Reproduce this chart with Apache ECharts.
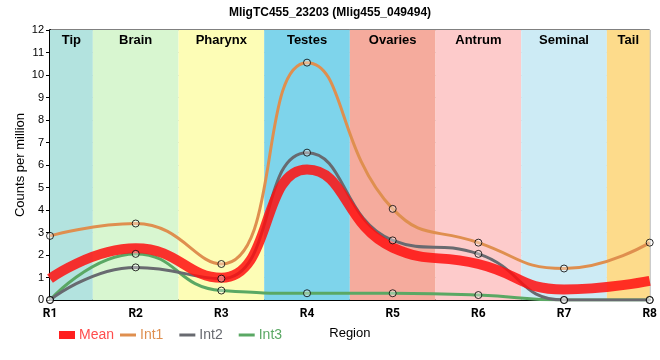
<!DOCTYPE html>
<html><head><meta charset="utf-8">
<script src="https://cdn.jsdelivr.net/npm/echarts@6/dist/echarts.min.js"></script>
<style>html,body{margin:0;padding:0;background:#fff}#c{width:660px;height:360px}</style>
</head><body><div id="c"></div>
<script>
const categories = ['R1','R2','R3','R4','R5','R6','R7','R8'];
const mean = [0.95, 2.3, 0.99, 5.8, 2.33, 1.6, 0.47, 0.85];
const int1 = [2.85, 3.4, 1.6, 10.55, 4.05, 2.55, 1.4, 2.55];
const int2 = [0, 1.45, 0.95, 6.55, 2.65, 2.05, 0, 0];
const int3 = [0, 2.05, 0.42, 0.3, 0.3, 0.22, 0, 0];
const bandNames = ['Tip','Brain','Pharynx','Testes','Ovaries','Antrum','Seminal','Tail'];
const bandStart = [0, 0.5, 1.5, 2.5, 3.5, 4.5, 5.5, 6.5];
const bandEnd = [0.5, 1.5, 2.5, 3.5, 4.5, 5.5, 6.5, 7];
const bandColors = ['#b3e3df','#d8f6d0','#fdfdb6','#7ed4eb','#f5ab9d','#fdcbcb','#cdebf5','#fddb8b'];
const yTicks = [0,1,2,3,4,5,6,7,8,9,10,11,12];

const FONT = 'Liberation Sans';
const pts = a => a.map((v,i)=>[i,v]);
const colors = {Mean:'#ff2020', Int1:'#df8f4f', Int2:'#686a70', Int3:'#5aa864'};

const chart = echarts.init(document.getElementById('c'), null, {renderer:'canvas'});
const markerSeries = (name, arr) => ({
  type:'scatter', data: pts(arr), symbol:'circle', symbolSize:7, z:10,
  itemStyle:{color:'rgba(255,255,255,0.45)', borderColor:'#000', borderWidth:1},
  silent:true, legendHoverLink:false, name: name + '_m'
});
const lineSeries = (name, arr, w, z) => ({
  name, type:'line', data: pts(arr), smooth:0.5, symbol:'none', z,
  lineStyle:{color:colors[name], width:w}, itemStyle:{color:colors[name]}
});
const legendText = {fontFamily:FONT, fontSize:14, padding:[0,0,0,-1]};

chart.setOption({
  animation:false,
  textStyle:{fontFamily:FONT},
  title:{text:'MligTC455_23203 (Mlig455_049494)', left:'center', top:2,
    textStyle:{fontFamily:FONT, fontSize:12, fontWeight:'bold', color:'#000'}},
  grid:{left:50, right:7, top:30, bottom:60, show:true, borderColor:'#000', borderWidth:1, backgroundColor:'transparent'},
  legend:[
    {left:54, top:323, itemWidth:16, itemHeight:8, textStyle:legendText,
      data:[{name:'Mean', icon:'rect', itemStyle:{color:colors.Mean}, textStyle:{color:'#ff4d4d'}}]},
    {left:115, top:323, itemWidth:16, itemHeight:3, itemGap:16, textStyle:legendText,
      data:[
        {name:'Int1', icon:'rect', itemStyle:{color:colors.Int1}, textStyle:{color:colors.Int1}},
        {name:'Int2', icon:'rect', itemStyle:{color:colors.Int2}, textStyle:{color:colors.Int2}},
        {name:'Int3', icon:'rect', itemStyle:{color:colors.Int3}, textStyle:{color:colors.Int3}}
      ]}
  ],
  xAxis:{type:'value', min:0, max:7, interval:1,
    name:'Region', nameLocation:'middle', nameGap:27, nameMoveOverlap:false,
    nameTextStyle:{fontFamily:FONT, fontSize:13, color:'#000'},
    axisLine:{lineStyle:{color:'#000', width:2}},
    axisTick:{show:false},
    axisLabel:{formatter:v=>categories[v], color:'#000', fontFamily:'Roboto', fontWeight:'bold', fontSize:12, margin:8},
    splitLine:{show:true, lineStyle:{color:'#c8c8c8', width:1}}},
  yAxis:{type:'value', min:yTicks[0], max:yTicks[yTicks.length-1], interval:1,
    name:'Counts per million', nameLocation:'middle', nameGap:23, nameMoveOverlap:false,
    nameTextStyle:{fontFamily:FONT, fontSize:13, color:'#000'},
    axisLine:{show:true, lineStyle:{color:'#000', width:2}},
    axisTick:{show:true, length:4, lineStyle:{color:'#000'}},
    axisLabel:{color:'#000', fontFamily:FONT, fontSize:11, margin:6},
    splitLine:{show:true, lineStyle:{color:'#c8c8c8', width:1}}},
  series:[
    {name:'bands', type:'line', data:[], silent:true, z:0,
      markArea:{silent:true,
        data: bandNames.map((n,i)=>[
          {name:n, xAxis:bandStart[i], yAxis:12, itemStyle:{color:bandColors[i], opacity:1},
           label:{show:true, position:'insideTop', distance:4, color:'#000', fontFamily:FONT, fontWeight:'bold', fontSize:13}},
          {xAxis:bandEnd[i], yAxis:0}
        ])}},
    lineSeries('Int1', int1, 3, 3),
    lineSeries('Int3', int3, 3, 3),
    lineSeries('Int2', int2, 3, 3),
    Object.assign(lineSeries('Mean', mean, 10, 4), {lineStyle:{color:'rgba(255,15,15,0.85)', width:10}, itemStyle:{color:colors.Mean}}),
    markerSeries('Int1', int1),
    markerSeries('Int2', int2),
    markerSeries('Int3', int3)
  ]
});
</script></body></html>
